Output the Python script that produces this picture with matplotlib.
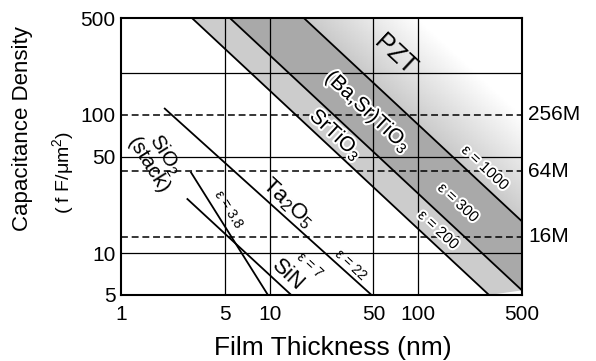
import matplotlib
matplotlib.use("Agg")
import matplotlib.pyplot as plt
import matplotlib.patheffects as pe
from matplotlib.colors import LinearSegmentedColormap
from matplotlib.ticker import FixedLocator, NullLocator
import numpy as np

plt.rcParams["font.family"] = ["Liberation Sans", "DejaVu Sans"]
plt.rcParams["mathtext.fontset"] = "custom"
plt.rcParams["mathtext.rm"] = "Liberation Sans"
plt.rcParams["mathtext.it"] = "Liberation Sans:italic"

# ---------------------------------------------------------------------------
# Data: film thickness (nm) vs capacitance (fF/um^2)
# ---------------------------------------------------------------------------
sio2_t = [2.94, 9.75]
sio2_c = [38.8, 5.0]
sin_t = [2.77, 14.0]
sin_c = [24.9, 5.0]
ta2o5_t = [1.95, 48.6]
ta2o5_c = [112.0, 5.0]

sto_lo_t = [3.0, 300.0]      # SrTiO3 band, lower edge
sto_lo_c = [500.0, 5.0]
sto_hi_t = [5.4, 500.0]      # SrTiO3 / (Ba,Sr)TiO3 boundary
sto_hi_c = [500.0, 5.4]
bst_hi_t = [17.0, 500.0]     # (Ba,Sr)TiO3 / PZT boundary
bst_hi_c = [500.0, 17.0]
pzt_edge_t = [100.0, 500.0]  # where the PZT shading fades out
pzt_edge_c = [500.0, 100.0]

dram_levels = [100.0, 39.0, 13.2]
dram_labels = ["256M", "64M", "16M"]

x_ticks = [1, 5, 10, 50, 100, 500]
y_ticks = [5, 10, 50, 100, 500]
x_grid = [5, 10, 50, 100]
y_grid = [10, 50, 200]

# ---------------------------------------------------------------------------
W, H = 596, 361
fig = plt.figure(figsize=(W / 100, H / 100), dpi=100)
fig.patch.set_facecolor("white")
ax = fig.add_axes([121 / W, 1 - 295 / H, 401 / W, 277 / H])
ax.set_xscale("log")
ax.set_yscale("log")
ax.set_xlim(1, 500)
ax.set_ylim(5, 500)

# shaded material bands
ax.fill(sto_lo_t + sto_hi_t[::-1], sto_lo_c + sto_hi_c[::-1],
        color="#cccccc", lw=0, zorder=1)
ax.fill(sto_hi_t + bst_hi_t[::-1], sto_hi_c + bst_hi_c[::-1],
        color="#a9a9a9", lw=0, zorder=1)

# PZT: light shading fading towards the upper right
gx = np.logspace(0, np.log10(500), 300)
gy = np.logspace(np.log10(5), np.log10(500), 300)
GX, GY = np.meshgrid(gx, gy)
s = np.log10(GX * GY)
k0 = np.log10(bst_hi_t[0] * bst_hi_c[0])
k1 = np.log10(pzt_edge_t[0] * pzt_edge_c[0])
shade = np.ma.masked_outside((s - k0) / (k1 - k0), 0, 1)
cmap = LinearSegmentedColormap.from_list("pzt", ["#c9c9c9", "#ffffff"])
ax.pcolormesh(gx, gy, shade, cmap=cmap, vmin=0, vmax=1,
              shading="auto", zorder=1, rasterized=True)

# grid
for xv in x_grid:
    ax.axvline(xv, color="black", lw=0.9, zorder=2)
for yv in y_grid:
    ax.axhline(yv, color="black", lw=0.9, zorder=2)
for yv in dram_levels:
    ax.axhline(yv, color="black", lw=1.1, ls=(0, (4.5, 2.5)), zorder=2)

# dielectric lines
LW = 1.3
for t, c in [(sio2_t, sio2_c), (sin_t, sin_c), (ta2o5_t, ta2o5_c),
             (sto_lo_t, sto_lo_c), (sto_hi_t, sto_hi_c), (bst_hi_t, bst_hi_c)]:
    ax.plot(t, c, color="black", lw=LW, zorder=3, solid_capstyle="butt")

# labels along the lines
halo = [pe.withStroke(linewidth=3, foreground="white")]
kw = dict(ha="center", va="center", rotation_mode="anchor", zorder=4)
ax.text(1.75, 47.0, "SiO$_2$\n(stack)", rotation=-58, fontsize=15,
        linespacing=0.95, **kw)
ax.text(5.25, 20.9, "ε = 3.8", rotation=-58, fontsize=10, **kw)
ax.text(13.3, 23.1, "Ta$_2$O$_5$", rotation=-43, fontsize=16, **kw)
ax.text(13.3, 6.97, "SiN", rotation=-43, fontsize=16, **kw)
ax.text(18.7, 8.24, "ε = 7", rotation=-43, fontsize=10, **kw)
ax.text(35.3, 8.24, "ε = 22", rotation=-43, fontsize=10, **kw)
ax.text(69.8, 270, "PZT", rotation=-43, fontsize=18, **kw)
ax.text(45.9, 104.8, "(Ba,Sr)TiO$_3$", rotation=-43, fontsize=15,
        path_effects=halo, **kw)
ax.text(28.0, 71.5, "SrTiO$_3$", rotation=-43, fontsize=15,
        path_effects=halo, **kw)
ax.text(281, 41.3, "ε = 1000", rotation=-43, fontsize=11, path_effects=halo, **kw)
ax.text(185, 23.1, "ε = 300", rotation=-43, fontsize=11, path_effects=halo, **kw)
ax.text(136, 14.7, "ε = 200", rotation=-43, fontsize=11, path_effects=halo, **kw)

# DRAM generation markers on the right
for yv, lab in zip(dram_levels, dram_labels):
    ax.text(1.015, yv, lab, transform=ax.get_yaxis_transform(),
            ha="left", va="center", fontsize=15, clip_on=False)

# axes styling
ax.xaxis.set_major_locator(FixedLocator(x_ticks))
ax.xaxis.set_minor_locator(NullLocator())
ax.set_xticklabels([str(v) for v in x_ticks])
ax.yaxis.set_major_locator(FixedLocator(y_ticks))
ax.yaxis.set_minor_locator(NullLocator())
ax.set_yticklabels([str(v) for v in y_ticks])
ax.tick_params(axis="x", length=0, pad=7, labelsize=15)
ax.tick_params(axis="y", length=0, pad=4, labelsize=15)
for sp in ax.spines.values():
    sp.set_linewidth(1.5)
    sp.set_zorder(5)

fig.text(23 / W, 1 - 128.5 / H, "Capacitance Density", rotation=90,
         ha="center", va="center", fontsize=16)
fig.text(63 / W, 1 - 172 / H, "( f F/μm$^2$)", rotation=90,
         ha="center", va="center", fontsize=14)
fig.text(333 / W, 1 - 355 / H, "Film Thickness (nm)",
         ha="center", va="baseline", fontsize=19)

fig.savefig("out.png", dpi=100, facecolor="white")
